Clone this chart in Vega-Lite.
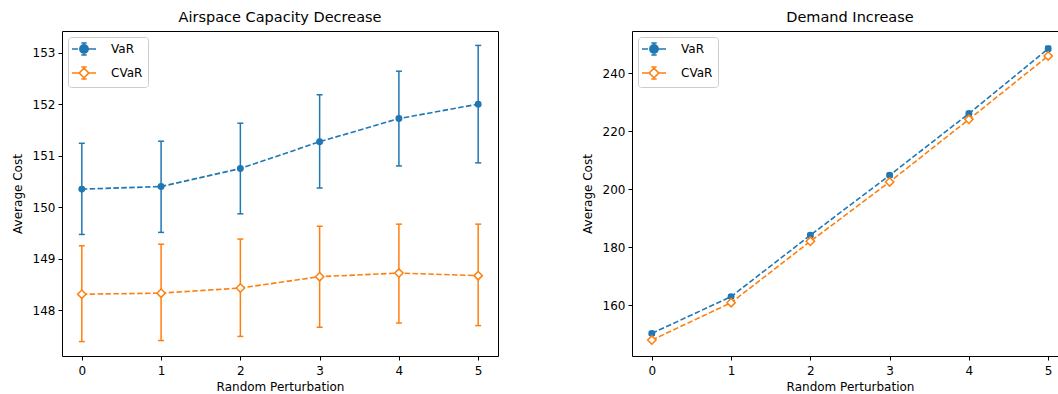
{
  "$schema": "https://vega.github.io/schema/vega-lite/v6.json",
  "padding": {"left": 10, "top": 9, "right": 0, "bottom": 0},
  "background": "white",
  "datasets": {
    "pts": [
      {"panel": "A", "series": "VaR", "x": 0, "y": 150.35, "lo": 149.47, "hi": 151.24},
      {"panel": "A", "series": "VaR", "x": 1, "y": 150.40, "lo": 149.51, "hi": 151.28},
      {"panel": "A", "series": "VaR", "x": 2, "y": 150.75, "lo": 149.87, "hi": 151.63},
      {"panel": "A", "series": "VaR", "x": 3, "y": 151.27, "lo": 150.37, "hi": 152.18},
      {"panel": "A", "series": "VaR", "x": 4, "y": 151.72, "lo": 150.80, "hi": 152.64},
      {"panel": "A", "series": "VaR", "x": 5, "y": 152.00, "lo": 150.86, "hi": 153.14},
      {"panel": "A", "series": "CVaR", "x": 0, "y": 148.31, "lo": 147.39, "hi": 149.25},
      {"panel": "A", "series": "CVaR", "x": 1, "y": 148.33, "lo": 147.41, "hi": 149.28},
      {"panel": "A", "series": "CVaR", "x": 2, "y": 148.43, "lo": 147.49, "hi": 149.38},
      {"panel": "A", "series": "CVaR", "x": 3, "y": 148.65, "lo": 147.67, "hi": 149.63},
      {"panel": "A", "series": "CVaR", "x": 4, "y": 148.72, "lo": 147.75, "hi": 149.67},
      {"panel": "A", "series": "CVaR", "x": 5, "y": 148.67, "lo": 147.70, "hi": 149.67},
      {"panel": "B", "series": "VaR", "x": 0, "y": 150.2, "lo": 149.6, "hi": 150.8},
      {"panel": "B", "series": "VaR", "x": 1, "y": 162.9, "lo": 162.3, "hi": 163.5},
      {"panel": "B", "series": "VaR", "x": 2, "y": 184.1, "lo": 183.5, "hi": 184.7},
      {"panel": "B", "series": "VaR", "x": 3, "y": 204.8, "lo": 204.2, "hi": 205.4},
      {"panel": "B", "series": "VaR", "x": 4, "y": 226.1, "lo": 225.5, "hi": 226.7},
      {"panel": "B", "series": "VaR", "x": 5, "y": 248.5, "lo": 247.8, "hi": 249.3},
      {"panel": "B", "series": "CVaR", "x": 0, "y": 147.9, "lo": 147.5, "hi": 148.3},
      {"panel": "B", "series": "CVaR", "x": 1, "y": 160.8, "lo": 160.4, "hi": 161.2},
      {"panel": "B", "series": "CVaR", "x": 2, "y": 182.0, "lo": 181.6, "hi": 182.4},
      {"panel": "B", "series": "CVaR", "x": 3, "y": 202.5, "lo": 202.1, "hi": 202.9},
      {"panel": "B", "series": "CVaR", "x": 4, "y": 224.1, "lo": 223.7, "hi": 224.5},
      {"panel": "B", "series": "CVaR", "x": 5, "y": 246.0, "lo": 245.6, "hi": 246.4}
    ]
  },
  "spacing": 81,
  "resolve": {"legend": {"color": "independent", "shape": "independent"}},
  "hconcat": [
    {
      "width": 436, "height": 325,
      "title": "Airspace Capacity Decrease",
      "data": {"name": "pts"},
      "transform": [{"filter": "datum.panel === 'A'"}],
      "layer": [
        {"mark": {"type": "point", "filled": false, "strokeWidth": 1.5, "opacity": 0},
         "encoding": {
           "x": {"field": "x", "type": "quantitative", "scale": {"domain": [-0.25, 5.25], "nice": false}, "axis": {"values": [0,1,2,3,4,5], "format": "d", "title": "Random Perturbation"}},
           "y": {"field": "y", "type": "quantitative", "scale": {"domain": [147.11, 153.42], "nice": false, "zero": false}, "axis": {"values": [148,149,150,151,152,153], "format": "d", "title": "Average Cost"}},
           "color": {"field": "series", "type": "nominal", "scale": {"domain": ["VaR", "CVaR"], "range": ["#1f77b4", "#ff7f0e"]}},
           "shape": {"field": "series", "type": "nominal", "scale": {"domain": ["VaR", "CVaR"], "range": [
             "M-2,0H-1M0.7,0H2M0,-1V1M-0.45,-1H0.45M-0.45,1H0.45M0.7,0A0.7,0.7 0 1,1 -0.7,0A0.7,0.7 0 1,1 0.7,0M0.45,0A0.45,0.45 0 1,1 -0.45,0A0.45,0.45 0 1,1 0.45,0M0.2,0A0.2,0.2 0 1,1 -0.2,0A0.2,0.2 0 1,1 0.2,0",
             "M-2,0H-0.8M0.8,0H2M0,-1V-0.8M0,0.8V1M-0.45,-1H0.45M-0.45,1H0.45M-0.06,-0.86L0.86,0.06M0.86,-0.06L-0.06,0.86M0.06,0.86L-0.86,-0.06M-0.86,0.06L0.06,-0.86"]}}
         }},
        {"mark": {"type": "line", "strokeDash": [5.5, 2.4], "strokeWidth": 1.6},
         "encoding": {
           "x": {"field": "x", "type": "quantitative"},
           "y": {"field": "y", "type": "quantitative"},
           "color": {"field": "series", "type": "nominal"}
         }},
        {"mark": {"type": "rule", "strokeWidth": 1.5},
         "encoding": {
           "x": {"field": "x", "type": "quantitative"},
           "y": {"field": "lo", "type": "quantitative"},
           "y2": {"field": "hi"},
           "color": {"field": "series", "type": "nominal"}
         }},
        {"mark": {"type": "tick", "orient": "horizontal", "size": 6, "thickness": 1.5, "opacity": 1},
         "encoding": {
           "x": {"field": "x", "type": "quantitative"},
           "y": {"field": "lo", "type": "quantitative"},
           "color": {"field": "series", "type": "nominal"}
         }},
        {"mark": {"type": "tick", "orient": "horizontal", "size": 6, "thickness": 1.5, "opacity": 1},
         "encoding": {
           "x": {"field": "x", "type": "quantitative"},
           "y": {"field": "hi", "type": "quantitative"},
           "color": {"field": "series", "type": "nominal"}
         }},
        {"transform": [{"filter": "datum.series === 'VaR'"}],
         "mark": {"type": "point", "shape": "circle", "filled": true, "size": 48, "opacity": 1},
         "encoding": {
           "x": {"field": "x", "type": "quantitative"},
           "y": {"field": "y", "type": "quantitative"},
           "color": {"field": "series", "type": "nominal"}
         }},
        {"transform": [{"filter": "datum.series === 'CVaR'"}],
         "mark": {"type": "point", "shape": "diamond", "filled": false, "fill": "#ffffff", "fillOpacity": 1, "strokeWidth": 1.5, "size": 70, "opacity": 1},
         "encoding": {
           "x": {"field": "x", "type": "quantitative"},
           "y": {"field": "y", "type": "quantitative"},
           "color": {"field": "series", "type": "nominal"}
         }}
      ]
    },
    {
      "width": 436, "height": 325,
      "title": "Demand Increase",
      "data": {"name": "pts"},
      "transform": [{"filter": "datum.panel === 'B'"}],
      "layer": [
        {"mark": {"type": "point", "filled": false, "strokeWidth": 1.5, "opacity": 0},
         "encoding": {
           "x": {"field": "x", "type": "quantitative", "scale": {"domain": [-0.25, 5.25], "nice": false}, "axis": {"values": [0,1,2,3,4,5], "format": "d", "title": "Random Perturbation"}},
           "y": {"field": "y", "type": "quantitative", "scale": {"domain": [142.4, 254.6], "nice": false, "zero": false}, "axis": {"values": [160,180,200,220,240], "format": "d", "title": "Average Cost"}},
           "color": {"field": "series", "type": "nominal", "scale": {"domain": ["VaR", "CVaR"], "range": ["#1f77b4", "#ff7f0e"]}},
           "shape": {"field": "series", "type": "nominal", "scale": {"domain": ["VaR", "CVaR"], "range": [
             "M-2,0H-1M0.7,0H2M0,-1V1M-0.45,-1H0.45M-0.45,1H0.45M0.7,0A0.7,0.7 0 1,1 -0.7,0A0.7,0.7 0 1,1 0.7,0M0.45,0A0.45,0.45 0 1,1 -0.45,0A0.45,0.45 0 1,1 0.45,0M0.2,0A0.2,0.2 0 1,1 -0.2,0A0.2,0.2 0 1,1 0.2,0",
             "M-2,0H-0.8M0.8,0H2M0,-1V-0.8M0,0.8V1M-0.45,-1H0.45M-0.45,1H0.45M-0.06,-0.86L0.86,0.06M0.86,-0.06L-0.06,0.86M0.06,0.86L-0.86,-0.06M-0.86,0.06L0.06,-0.86"]}}
         }},
        {"mark": {"type": "line", "strokeDash": [5.5, 2.4], "strokeWidth": 1.6},
         "encoding": {
           "x": {"field": "x", "type": "quantitative"},
           "y": {"field": "y", "type": "quantitative"},
           "color": {"field": "series", "type": "nominal"}
         }},
        {"mark": {"type": "rule", "strokeWidth": 1.5},
         "encoding": {
           "x": {"field": "x", "type": "quantitative"},
           "y": {"field": "lo", "type": "quantitative"},
           "y2": {"field": "hi"},
           "color": {"field": "series", "type": "nominal"}
         }},
        {"mark": {"type": "tick", "orient": "horizontal", "size": 6, "thickness": 1.5, "opacity": 1},
         "encoding": {
           "x": {"field": "x", "type": "quantitative"},
           "y": {"field": "lo", "type": "quantitative"},
           "color": {"field": "series", "type": "nominal"}
         }},
        {"mark": {"type": "tick", "orient": "horizontal", "size": 6, "thickness": 1.5, "opacity": 1},
         "encoding": {
           "x": {"field": "x", "type": "quantitative"},
           "y": {"field": "hi", "type": "quantitative"},
           "color": {"field": "series", "type": "nominal"}
         }},
        {"transform": [{"filter": "datum.series === 'VaR'"}],
         "mark": {"type": "point", "shape": "circle", "filled": true, "size": 48, "opacity": 1},
         "encoding": {
           "x": {"field": "x", "type": "quantitative"},
           "y": {"field": "y", "type": "quantitative"},
           "color": {"field": "series", "type": "nominal"}
         }},
        {"transform": [{"filter": "datum.series === 'CVaR'"}],
         "mark": {"type": "point", "shape": "diamond", "filled": false, "fill": "#ffffff", "fillOpacity": 1, "strokeWidth": 1.5, "size": 70, "opacity": 1},
         "encoding": {
           "x": {"field": "x", "type": "quantitative"},
           "y": {"field": "y", "type": "quantitative"},
           "color": {"field": "series", "type": "nominal"}
         }}
      ]
    }
  ],
  "config": {
    "font": "DejaVu Sans",
    "view": {"stroke": "#000000", "strokeWidth": 1},
    "title": {"fontSize": 14.5, "fontWeight": "normal", "color": "#000000", "offset": 6, "font": "DejaVu Sans"},
    "axis": {
      "domain": false, "grid": false,
      "tickColor": "#000000", "tickSize": 4, "tickWidth": 1,
      "labelFontSize": 12, "labelColor": "#000000", "labelPadding": 3,
      "titleFontSize": 12, "titleFontWeight": "normal", "titleColor": "#000000",
      "labelFont": "DejaVu Sans", "titleFont": "DejaVu Sans"
    },
    "axisX": {"titlePadding": 5, "labelPadding": 5},
    "axisY": {"titlePadding": 8},
    "legend": {
      "orient": "top-left", "offset": 6, "title": null,
      "strokeColor": "#cccccc", "fillColor": "rgba(255,255,255,0.8)", "cornerRadius": 3, "padding": 5,
      "labelFontSize": 12, "labelFont": "DejaVu Sans", "labelColor": "#000000",
      "symbolSize": 144, "symbolStrokeWidth": 1.5, "symbolOffset": 4, "labelOffset": 20, "rowPadding": 6
    }
  }
}
